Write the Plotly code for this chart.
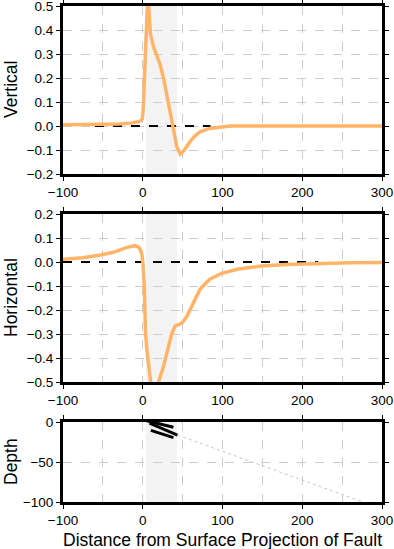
import plotly.graph_objects as go

# ---- data ----
vert_x = [-100, -60, -30, -15, -5, -2, -0.5, 0.6, 1.5, 2.7, 4, 4.8, 5.5, 6.5, 7.5, 8.5, 9.5, 13.5, 17.7,
          22, 26, 30, 34, 37.7, 42.7, 47, 51, 55, 60, 66, 72, 84, 99, 110, 300]
vert_y = [0.005, 0.006, 0.008, 0.012, 0.018, 0.024, 0.03, 0.07, 0.15, 0.25, 0.39, 0.5, 0.56, 0.56, 0.5,
          0.42, 0.386, 0.33, 0.296, 0.254, 0.2, 0.136, 0.067, 0.0, -0.086, -0.117, -0.105, -0.086,
          -0.062, -0.04, -0.024, -0.01, -0.003, 0, 0]

horiz_x = [-100, -75, -53, -35, -20, -9.4, -5, -3, -1, 0.2, 1.9, 2.7, 3.5, 5.2, 7.3, 9.4, 12, 15, 17.5,
           19.8, 23, 26, 29, 32, 36.5, 40.6, 45, 49, 55, 59, 63.5, 72, 84, 99, 120, 149, 180, 222, 260, 300]
horiz_y = [0.011, 0.018, 0.029, 0.042, 0.061, 0.068, 0.062, 0.05, 0.03, -0.005, -0.103, -0.2, -0.297,
           -0.367, -0.45, -0.5, -0.56, -0.58, -0.55, -0.5, -0.47, -0.436, -0.395, -0.353, -0.297, -0.267,
           -0.26, -0.255, -0.228, -0.2, -0.172, -0.113, -0.072, -0.047, -0.029, -0.017, -0.01, -0.005,
           -0.003, -0.002]

vert_ref_x = [-60, 85]
vert_ref_y = [0, 0]
horiz_ref_x = [-100, 220]
horiz_ref_y = [0, 0]

fault_segments = [
    ([5, 38.5], [1.5, -6.5]),
    ([8.5, 43.5], [-1.5, -16.3]),
    ([10.2, 38.5], [-10.5, -19.6]),
]
dip_x = [43.5, 276]
dip_y = [-16.3, -100]

shade_range = [4, 43]
x_ticks = [-100, 0, 100, 200, 300]
depth_ticks = [0, -50, -100]

# ---- figure ----
ORANGE = "#ffb468"
GRID = "#cccccc"
FONT = "Liberation Sans, Arial, sans-serif"
TICK = 13.5
TITLE = 17.5

fig = go.Figure()
fig.add_trace(go.Scatter(x=vert_ref_x, y=vert_ref_y, mode="lines", xaxis="x", yaxis="y",
                         line=dict(color="black", width=2, dash="dash")))
fig.add_trace(go.Scatter(x=vert_x, y=vert_y, mode="lines", xaxis="x", yaxis="y",
                         line=dict(color=ORANGE, width=3.5)))
fig.add_trace(go.Scatter(x=horiz_ref_x, y=horiz_ref_y, mode="lines", xaxis="x2", yaxis="y2",
                         line=dict(color="black", width=2, dash="dash")))
fig.add_trace(go.Scatter(x=horiz_x, y=horiz_y, mode="lines", xaxis="x2", yaxis="y2",
                         line=dict(color=ORANGE, width=3.5)))
fig.add_trace(go.Scatter(x=dip_x, y=dip_y, mode="lines", xaxis="x3", yaxis="y3",
                         line=dict(color="#c8c8c8", width=1, dash="dot")))
for sx, sy in fault_segments:
    fig.add_trace(go.Scatter(x=sx, y=sy, mode="lines", xaxis="x3", yaxis="y3",
                             line=dict(color="black", width=3)))

H = 496.0
dom3 = [0, 80 / H]
dom2 = [120 / H, 288 / H]
dom1 = [328 / H, 1]

def xaxis(anchor):
    return dict(range=[-100, 300], tickvals=x_ticks, ticks="outside", ticklen=4, tickwidth=1,
                tickcolor="black", showline=True, linewidth=3, linecolor="black", mirror="ticks",
                showgrid=True, gridcolor=GRID, griddash="dash", gridwidth=1,
                minor=dict(dtick=50, tick0=0, showgrid=True, gridcolor=GRID, griddash="dash", ticks=""),
                zeroline=False, anchor=anchor, tickfont=dict(size=TICK, color="black"),
                ticklabeloverflow="allow")

def yaxis(rng, dtick, dom, anchor, fmt):
    return dict(range=rng, dtick=dtick, tick0=0, domain=dom, anchor=anchor, ticks="outside", ticklen=4,
                tickwidth=1, tickcolor="black", showline=True, linewidth=3, linecolor="black",
                mirror="ticks", showgrid=True, gridcolor=GRID, griddash="dash", gridwidth=1,
                zeroline=False, tickformat=fmt, tickfont=dict(size=TICK, color="black"),
                ticklabeloverflow="allow")

shapes = []
for xr, yr in [("x", "y domain"), ("x2", "y2 domain"), ("x3", "y3 domain")]:
    shapes.append(dict(type="rect", xref=xr, yref=yr, x0=shade_range[0], x1=shade_range[1], y0=0, y1=1,
                       fillcolor="#f3f3f3", line=dict(width=0), layer="below"))

annotations = [
    dict(text="Vertical", x=-0.163, y=(dom1[0] + dom1[1]) / 2, xref="paper", yref="paper",
         textangle=-90, showarrow=False, font=dict(size=TITLE), xanchor="center", yanchor="middle"),
    dict(text="Horizontal", x=-0.163, y=(dom2[0] + dom2[1]) / 2, xref="paper", yref="paper",
         textangle=-90, showarrow=False, font=dict(size=TITLE), xanchor="center", yanchor="middle"),
    dict(text="Depth", x=-0.163, y=(dom3[0] + dom3[1]) / 2, xref="paper", yref="paper",
         textangle=-90, showarrow=False, font=dict(size=TITLE), xanchor="center", yanchor="middle"),
    dict(text="Distance from Surface Projection of Fault", x=0.5, y=-38 / H, xref="paper", yref="paper",
         showarrow=False, font=dict(size=TITLE), xanchor="center", yanchor="middle"),
]

fig.update_layout(
    width=394, height=549,
    margin=dict(l=62.5, r=11.5, t=6, b=47, autoexpand=False),
    paper_bgcolor="white", plot_bgcolor="white",
    showlegend=False,
    font=dict(family=FONT, color="black"),
    xaxis=xaxis("y"), xaxis2=xaxis("y2"), xaxis3=xaxis("y3"),
    yaxis=yaxis([-0.2, 0.5], 0.1, dom1, "x", ".1f"),
    yaxis2=yaxis([-0.5, 0.2], 0.1, dom2, "x2", ".1f"),
    yaxis3=dict(yaxis([-100, 0], 50, dom3, "x3", "d"), tickvals=depth_ticks),
    shapes=shapes,
    annotations=annotations,
)

fig.write_html("out.html", config={"displayModeBar": False},
               post_script="document.body.style.margin='0';document.body.style.overflow='hidden';")
